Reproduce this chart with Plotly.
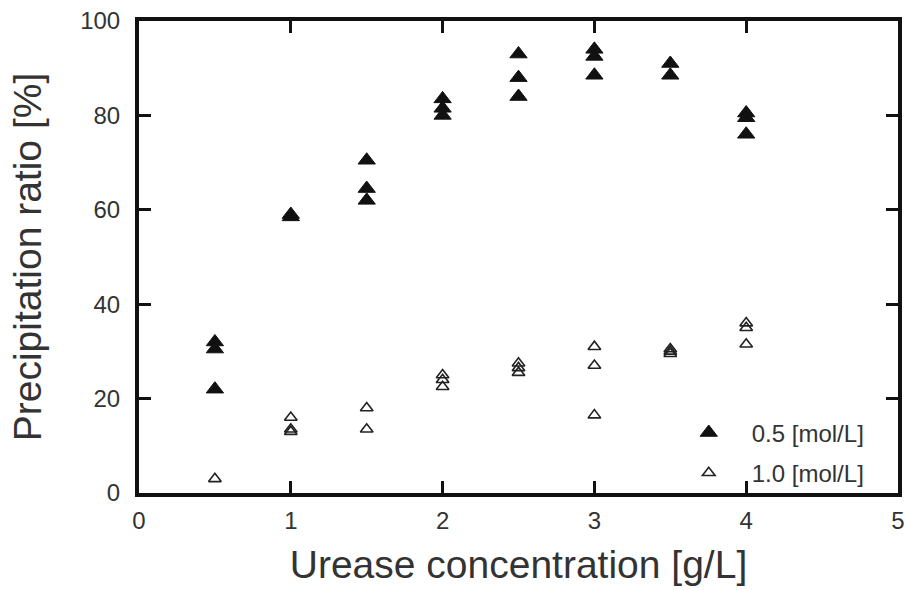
import plotly.graph_objects as go

# 0.5 mol/L series (filled triangles)
x_05 = [0.5, 0.5, 0.5, 1, 1, 1.5, 1.5, 1.5, 2, 2, 2, 2.5, 2.5, 2.5, 3, 3, 3, 3.5, 3.5, 4, 4, 4]
y_05 = [32, 30.5, 22, 59, 58.5, 70.5, 64.5, 62, 83.5, 81.5, 80, 93, 88, 84, 94, 92.5, 88.5, 91, 88.5, 80.5, 79.5, 76]

# 1.0 mol/L series (open triangles)
x_10 = [0.5, 1, 1, 1, 1.5, 1.5, 2, 2, 2, 2.5, 2.5, 2.5, 3, 3, 3, 3.5, 3.5, 3.5, 4, 4, 4]
y_10 = [3, 16, 13.5, 13, 18, 13.5, 25, 24, 22.5, 27.5, 26.5, 25.5, 31, 27, 16.5, 30.5, 30, 29.5, 36, 35, 31.5]

names = ["0.5 [mol/L]", "1.0 [mol/L]"]
x_ticks = [0, 1, 2, 3, 4, 5]
y_ticks = [0, 20, 40, 60, 80, 100]

FONT = "Liberation Sans, Arial, Helvetica, sans-serif"

fig = go.Figure()
fig.add_trace(go.Scatter(
    x=x_05, y=y_05, mode="markers", name=names[0], legendgroup="a",
    marker=dict(symbol="triangle-up", size=15, color="#111111",
                line=dict(width=1, color="#111111")),
))
fig.add_trace(go.Scatter(
    x=x_10, y=y_10, mode="markers", name=names[1], legendgroup="b",
    marker=dict(symbol="triangle-up-open", size=11, color="#222222",
                line=dict(width=1.6, color="#222222")),
))

axis_common = dict(
    showgrid=False, zeroline=False, showline=True, linecolor="#111111",
    linewidth=4, mirror="ticks", ticks="inside", ticklen=12, tickwidth=3,
    tickcolor="#111111", tickfont=dict(family=FONT, size=24, color="#333333"),
    automargin=False, ticklabeloverflow="allow",
)

fig.update_layout(
    width=905, height=590,
    margin=dict(l=139, r=7, t=21, b=97),
    paper_bgcolor="white", plot_bgcolor="white",
    font=dict(family=FONT, color="#333333"),
    xaxis=dict(range=[0, 5], tickvals=x_ticks, ticktext=[str(v) for v in x_ticks],
               ticklabelstandoff=3,
               title=dict(text="Urease concentration [g/L]", font=dict(family=FONT, size=39, color="#333333"), standoff=19),
               **axis_common),
    yaxis=dict(range=[0, 100], tickvals=y_ticks, ticktext=[str(v) for v in y_ticks],
               ticklabelstandoff=10,
               title=dict(text="Precipitation ratio [%]", font=dict(family=FONT, size=39, color="#333333"), standoff=28),
               **axis_common),
    showlegend=True,
    legend=dict(x=0.694, y=0.175, xanchor="left", yanchor="top",
                bgcolor="rgba(0,0,0,0)", font=dict(family=FONT, size=24, color="#333333"),
                traceorder="grouped", tracegroupgap=6, itemwidth=76),
)

fig.write_html(
    "out.html",
    config={"displayModeBar": False},
    post_script="document.body.style.margin='0';document.documentElement.style.overflow='hidden';",
)
